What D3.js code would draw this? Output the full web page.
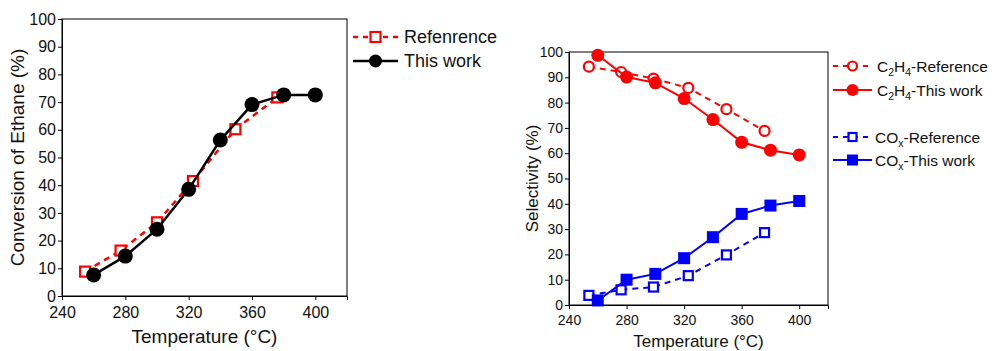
<!DOCTYPE html>
<html><head><meta charset="utf-8">
<script src="https://cdn.jsdelivr.net/npm/d3@7"></script>
<style>body{margin:0;background:#fff}svg{display:block;font-family:"Liberation Sans",Arial,sans-serif}</style>
</head><body><svg id="c" width="994" height="351"></svg>
<script>
// ---- data ----
const convRefT = [254.6, 277, 300, 322.7, 349.5, 376];
const convRefV = [8.8, 16.4, 26.6, 41.5, 60.2, 71.7];
const workT = [260, 280, 300, 320, 340, 360, 380, 400];
const convWorkV = [7.6, 14.4, 24.1, 38.5, 56.3, 69.1, 72.6, 72.6];

const selRefT = [253.8, 276.2, 298.7, 322.9, 349.4, 375.9];
const c2h4RefV = [94.2, 92.1, 89.5, 85.8, 77.4, 68.8];
const c2h4WorkV = [98.7, 90.1, 87.8, 81.6, 73.3, 64.3, 61.2, 59.3];
const coxRefV = [3.8, 6.0, 7.1, 11.6, 19.8, 28.6];
const coxWorkV = [1.8, 10.0, 12.3, 18.5, 26.8, 36.0, 39.3, 41.1];

const xTicks = [240, 280, 320, 360, 400];
const yTicks = [0, 10, 20, 30, 40, 50, 60, 70, 80, 90, 100];

const svg = d3.select("#c");
svg.append("rect").attr("width",994).attr("height",351).attr("fill","#fff");

function panel(o){
  const g = svg.append("g");
  const x = d3.scaleLinear().domain([240,420]).range([o.l,o.r]);
  const y = d3.scaleLinear().domain([0,100]).range([o.b,o.t]);
  g.append("rect").attr("x",o.l).attr("y",o.t).attr("width",o.r-o.l).attr("height",o.b-o.t)
    .attr("fill","none").attr("stroke","#000").attr("stroke-width",1);
  const xa = g.append("g").attr("transform",`translate(0,${o.b})`)
    .call(d3.axisBottom(x).tickValues(xTicks).tickSize(4).tickPadding(o.xpad).tickFormat(d3.format("d")));
  const ya = g.append("g").attr("transform",`translate(${o.l},0)`)
    .call(d3.axisLeft(y).tickValues(yTicks).tickSize(4).tickPadding(2).tickFormat(d3.format("d")));
  [xa,ya].forEach(a=>{a.select(".domain").attr("stroke","#000");
    a.selectAll("text").attr("font-size",o.tfs).attr("fill","#111").attr("font-family","Liberation Sans, Arial, sans-serif");});
  g.append("text").attr("x",(o.l+o.r)/2).attr("y",o.xty).attr("text-anchor","middle")
    .attr("font-size",o.afs).attr("fill","#111").text("Temperature (°C)");
  g.append("text").attr("transform",`translate(${o.ytx},${(o.t+o.b)/2}) rotate(-90)`).attr("text-anchor","middle")
    .attr("font-size",o.afs).attr("fill","#111").text(o.ytitle);
  return {g,x,y};
}

function series(p, T, V, color, dashed, shape, filled, size, lw){
  const line = d3.line().x((d,i)=>p.x(T[i])).y(d=>p.y(d));
  p.g.append("path").attr("d",line(V)).attr("fill","none").attr("stroke",color)
    .attr("stroke-width",lw).attr("stroke-dasharray",dashed?"6,5":null);
  drawMarkers(p.g, T.map((t,i)=>[p.x(t),p.y(V[i])]), color, shape, filled, size);
}
function drawMarkers(g, pts, color, shape, filled, size){
  pts.forEach(([cx,cy])=>{
    if(shape==="circle"){
      g.append("circle").attr("cx",cx).attr("cy",cy).attr("r",filled?size/2:size/2-1)
        .attr("fill",filled?color:"#fff").attr("stroke",color).attr("stroke-width",filled?0:2.2);
    } else {
      const s = filled?size:size-2;
      g.append("rect").attr("x",cx-s/2).attr("y",cy-s/2).attr("width",s).attr("height",s)
        .attr("fill",filled?color:"#fff").attr("stroke",color).attr("stroke-width",filled?0:2.2);
    }
  });
}
function legendItem(x1,x2,y,color,dashed,shape,filled,size,lw){
  svg.append("line").attr("x1",x1).attr("x2",x2).attr("y1",y).attr("y2",y).attr("stroke",color)
    .attr("stroke-width",lw).attr("stroke-dasharray",dashed?"5,5":null);
  drawMarkers(svg,[[(x1+x2)/2,y]],color,shape,filled,size);
}

// left panel
const P1 = panel({l:62,r:347,t:19,b:296,tfs:16,afs:19,xty:343,ytx:24,xpad:7,ytitle:"Conversion of Ethane (%)"});
series(P1, convRefT, convRefV, "#ff0000", true, "square", false, 12, 2.5);
series(P1, workT, convWorkV, "#000", false, "circle", true, 15, 2.5);

// right panel
const P2 = panel({l:569,r:828,t:52,b:305,tfs:14,afs:17,xty:347,ytx:538,xpad:6,ytitle:"Selectivity (%)"});
series(P2, selRefT, c2h4RefV, "#ff0000", true, "circle", false, 12, 2);
series(P2, workT, c2h4WorkV, "#ff0000", false, "circle", true, 13, 2);
series(P2, selRefT, coxRefV, "#0000ff", true, "square", false, 11, 2);
series(P2, workT, coxWorkV, "#0000ff", false, "square", true, 12, 2);

// left legend
legendItem(353,398,37,"#ff0000",true,"square",false,12,2.5);
legendItem(353,398,61,"#000",false,"circle",true,13,2.5);
svg.append("text").attr("x",404).attr("y",43).attr("font-size",18).attr("fill","#111").text("Refenrence");
svg.append("text").attr("x",404).attr("y",67).attr("font-size",18).attr("fill","#111").text("This work");

// right legend
const rl = [
  {y:66, c:"#ff0000", d:true, s:"circle", f:false, sz:11, chem:"C2H4", lab:"-Reference"},
  {y:90, c:"#ff0000", d:false, s:"circle", f:true, sz:12, chem:"C2H4", lab:"-This work"},
  {y:137, c:"#0000ff", d:true, s:"square", f:false, sz:10, chem:"COx", lab:"-Reference"},
  {y:160, c:"#0000ff", d:false, s:"square", f:true, sz:11, chem:"COx", lab:"-This work"}
];
rl.forEach(r=>{
  legendItem(833,872,r.y,r.c,r.d,r.s,r.f,r.sz,2);
  const t = svg.append("text").attr("x",r.chem==="C2H4"?877:875).attr("y",r.y+5.5).attr("font-size",15.5).attr("fill","#111");
  const parts = r.chem==="C2H4" ? [["C",0],["2",1],["H",0],["4",1]] : [["CO",0],["x",1]];
  let dyAcc = 0;
  parts.forEach(([s,sub])=>{
    const target = sub?4:0;
    t.append("tspan").text(s).attr("font-size",sub?10.5:15.5).attr("dy",target-dyAcc);
    dyAcc = target;
  });
  t.append("tspan").text(r.lab).attr("dy",-dyAcc);
});
</script></body></html>
